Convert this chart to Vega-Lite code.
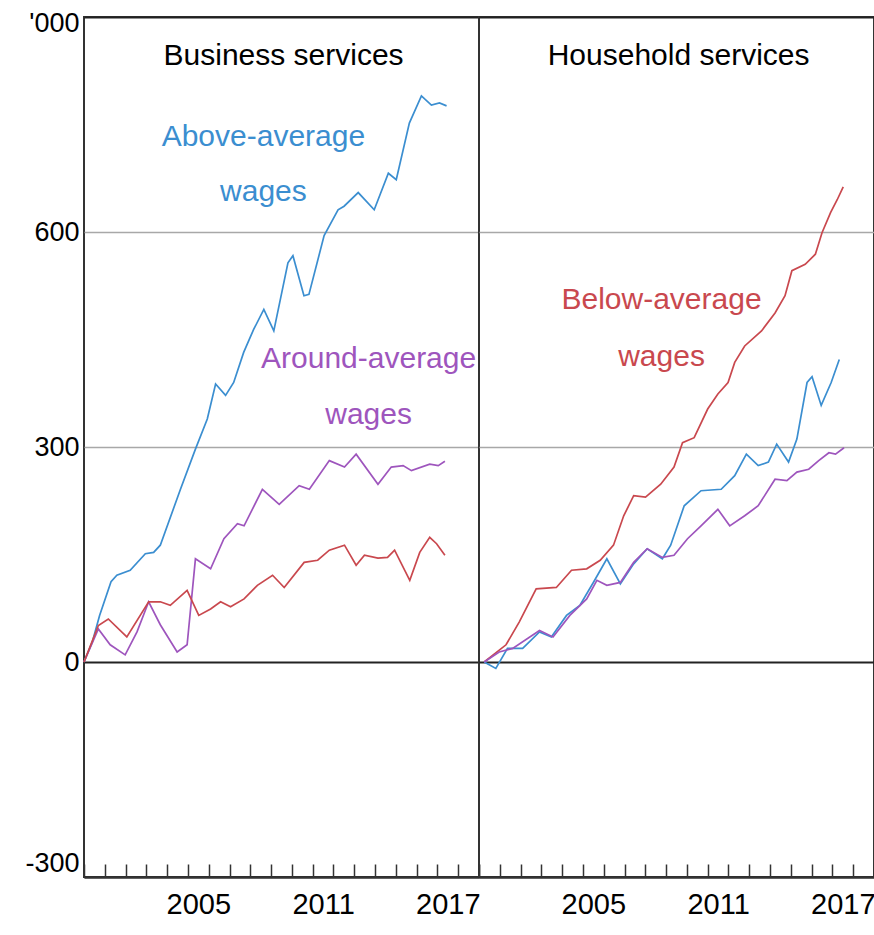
{
  "$schema": "https://vega.github.io/schema/vega-lite/v6.json",
  "background": "white",
  "padding": {"left": 23, "top": 8, "right": 0, "bottom": 0},
  "spacing": 0,
  "bounds": "flush",
  "datasets": {
    "series": [
      {"panel":"Business","series":"Above-average wages","year":2000.0,"value":0},
      {"panel":"Business","series":"Above-average wages","year":2000.4,"value":28},
      {"panel":"Business","series":"Above-average wages","year":2000.75,"value":65},
      {"panel":"Business","series":"Above-average wages","year":2001.3,"value":112},
      {"panel":"Business","series":"Above-average wages","year":2001.58,"value":121},
      {"panel":"Business","series":"Above-average wages","year":2002.22,"value":128},
      {"panel":"Business","series":"Above-average wages","year":2002.95,"value":151},
      {"panel":"Business","series":"Above-average wages","year":2003.35,"value":153},
      {"panel":"Business","series":"Above-average wages","year":2003.67,"value":163},
      {"panel":"Business","series":"Above-average wages","year":2004.64,"value":241},
      {"panel":"Business","series":"Above-average wages","year":2005.36,"value":297},
      {"panel":"Business","series":"Above-average wages","year":2005.93,"value":339},
      {"panel":"Business","series":"Above-average wages","year":2006.33,"value":388},
      {"panel":"Business","series":"Above-average wages","year":2006.81,"value":372},
      {"panel":"Business","series":"Above-average wages","year":2007.2,"value":390},
      {"panel":"Business","series":"Above-average wages","year":2007.68,"value":432},
      {"panel":"Business","series":"Above-average wages","year":2008.16,"value":464},
      {"panel":"Business","series":"Above-average wages","year":2008.65,"value":492},
      {"panel":"Business","series":"Above-average wages","year":2009.13,"value":462},
      {"panel":"Business","series":"Above-average wages","year":2009.81,"value":557},
      {"panel":"Business","series":"Above-average wages","year":2010.05,"value":567},
      {"panel":"Business","series":"Above-average wages","year":2010.58,"value":511},
      {"panel":"Business","series":"Above-average wages","year":2010.82,"value":513},
      {"panel":"Business","series":"Above-average wages","year":2011.55,"value":595},
      {"panel":"Business","series":"Above-average wages","year":2012.22,"value":631},
      {"panel":"Business","series":"Above-average wages","year":2012.51,"value":636},
      {"panel":"Business","series":"Above-average wages","year":2013.19,"value":655},
      {"panel":"Business","series":"Above-average wages","year":2013.96,"value":631},
      {"panel":"Business","series":"Above-average wages","year":2014.64,"value":682},
      {"panel":"Business","series":"Above-average wages","year":2015.02,"value":673},
      {"panel":"Business","series":"Above-average wages","year":2015.65,"value":752},
      {"panel":"Business","series":"Above-average wages","year":2016.23,"value":790},
      {"panel":"Business","series":"Above-average wages","year":2016.71,"value":777},
      {"panel":"Business","series":"Above-average wages","year":2017.1,"value":780},
      {"panel":"Business","series":"Above-average wages","year":2017.44,"value":776},

      {"panel":"Business","series":"Around-average wages","year":2000.0,"value":0},
      {"panel":"Business","series":"Around-average wages","year":2000.69,"value":46},
      {"panel":"Business","series":"Around-average wages","year":2001.26,"value":24},
      {"panel":"Business","series":"Around-average wages","year":2001.98,"value":10},
      {"panel":"Business","series":"Around-average wages","year":2002.55,"value":42},
      {"panel":"Business","series":"Around-average wages","year":2003.11,"value":84},
      {"panel":"Business","series":"Around-average wages","year":2003.67,"value":52},
      {"panel":"Business","series":"Around-average wages","year":2004.48,"value":14},
      {"panel":"Business","series":"Around-average wages","year":2004.96,"value":24},
      {"panel":"Business","series":"Around-average wages","year":2005.36,"value":144},
      {"panel":"Business","series":"Around-average wages","year":2006.09,"value":130},
      {"panel":"Business","series":"Around-average wages","year":2006.73,"value":172},
      {"panel":"Business","series":"Around-average wages","year":2007.38,"value":193},
      {"panel":"Business","series":"Around-average wages","year":2007.7,"value":190},
      {"panel":"Business","series":"Around-average wages","year":2008.58,"value":241},
      {"panel":"Business","series":"Around-average wages","year":2009.39,"value":220},
      {"panel":"Business","series":"Around-average wages","year":2010.35,"value":246},
      {"panel":"Business","series":"Around-average wages","year":2010.84,"value":241},
      {"panel":"Business","series":"Around-average wages","year":2011.8,"value":281},
      {"panel":"Business","series":"Around-average wages","year":2012.53,"value":272},
      {"panel":"Business","series":"Around-average wages","year":2013.09,"value":290},
      {"panel":"Business","series":"Around-average wages","year":2014.14,"value":248},
      {"panel":"Business","series":"Around-average wages","year":2014.78,"value":272},
      {"panel":"Business","series":"Around-average wages","year":2015.35,"value":274},
      {"panel":"Business","series":"Around-average wages","year":2015.75,"value":267},
      {"panel":"Business","series":"Around-average wages","year":2016.63,"value":276},
      {"panel":"Business","series":"Around-average wages","year":2017.04,"value":274},
      {"panel":"Business","series":"Around-average wages","year":2017.36,"value":280},

      {"panel":"Business","series":"Below-average wages","year":2000.0,"value":0},
      {"panel":"Business","series":"Below-average wages","year":2000.69,"value":51},
      {"panel":"Business","series":"Below-average wages","year":2001.17,"value":60},
      {"panel":"Business","series":"Below-average wages","year":2002.06,"value":35},
      {"panel":"Business","series":"Below-average wages","year":2003.11,"value":84},
      {"panel":"Business","series":"Below-average wages","year":2003.67,"value":84},
      {"panel":"Business","series":"Below-average wages","year":2004.15,"value":79},
      {"panel":"Business","series":"Below-average wages","year":2004.96,"value":100},
      {"panel":"Business","series":"Below-average wages","year":2005.52,"value":65},
      {"panel":"Business","series":"Below-average wages","year":2006.09,"value":74},
      {"panel":"Business","series":"Below-average wages","year":2006.57,"value":84},
      {"panel":"Business","series":"Below-average wages","year":2007.05,"value":77},
      {"panel":"Business","series":"Below-average wages","year":2007.7,"value":88},
      {"panel":"Business","series":"Below-average wages","year":2008.34,"value":107},
      {"panel":"Business","series":"Below-average wages","year":2009.07,"value":121},
      {"panel":"Business","series":"Below-average wages","year":2009.63,"value":104},
      {"panel":"Business","series":"Below-average wages","year":2010.59,"value":139},
      {"panel":"Business","series":"Below-average wages","year":2011.24,"value":142},
      {"panel":"Business","series":"Below-average wages","year":2011.8,"value":156},
      {"panel":"Business","series":"Below-average wages","year":2012.53,"value":163},
      {"panel":"Business","series":"Below-average wages","year":2013.09,"value":135},
      {"panel":"Business","series":"Below-average wages","year":2013.49,"value":149},
      {"panel":"Business","series":"Below-average wages","year":2014.14,"value":145},
      {"panel":"Business","series":"Below-average wages","year":2014.6,"value":146},
      {"panel":"Business","series":"Below-average wages","year":2014.94,"value":156},
      {"panel":"Business","series":"Below-average wages","year":2015.67,"value":114},
      {"panel":"Business","series":"Below-average wages","year":2016.15,"value":153},
      {"panel":"Business","series":"Below-average wages","year":2016.63,"value":174},
      {"panel":"Business","series":"Below-average wages","year":2016.96,"value":165},
      {"panel":"Business","series":"Below-average wages","year":2017.36,"value":149},

      {"panel":"Household","series":"Below-average wages","year":2000.25,"value":0},
      {"panel":"Household","series":"Below-average wages","year":2001.3,"value":24},
      {"panel":"Household","series":"Below-average wages","year":2001.94,"value":56},
      {"panel":"Household","series":"Below-average wages","year":2002.75,"value":102},
      {"panel":"Household","series":"Below-average wages","year":2003.72,"value":104},
      {"panel":"Household","series":"Below-average wages","year":2004.45,"value":128},
      {"panel":"Household","series":"Below-average wages","year":2005.18,"value":130},
      {"panel":"Household","series":"Below-average wages","year":2005.83,"value":142},
      {"panel":"Household","series":"Below-average wages","year":2006.47,"value":163},
      {"panel":"Household","series":"Below-average wages","year":2006.96,"value":204},
      {"panel":"Household","series":"Below-average wages","year":2007.44,"value":232},
      {"panel":"Household","series":"Below-average wages","year":2008.01,"value":230},
      {"panel":"Household","series":"Below-average wages","year":2008.74,"value":248},
      {"panel":"Household","series":"Below-average wages","year":2009.38,"value":272},
      {"panel":"Household","series":"Below-average wages","year":2009.79,"value":306},
      {"panel":"Household","series":"Below-average wages","year":2010.35,"value":313},
      {"panel":"Household","series":"Below-average wages","year":2011.0,"value":353},
      {"panel":"Household","series":"Below-average wages","year":2011.49,"value":374},
      {"panel":"Household","series":"Below-average wages","year":2011.98,"value":390},
      {"panel":"Household","series":"Below-average wages","year":2012.3,"value":418},
      {"panel":"Household","series":"Below-average wages","year":2012.78,"value":441},
      {"panel":"Household","series":"Below-average wages","year":2013.59,"value":462},
      {"panel":"Household","series":"Below-average wages","year":2014.24,"value":487},
      {"panel":"Household","series":"Below-average wages","year":2014.72,"value":511},
      {"panel":"Household","series":"Below-average wages","year":2015.05,"value":546},
      {"panel":"Household","series":"Below-average wages","year":2015.69,"value":555},
      {"panel":"Household","series":"Below-average wages","year":2016.18,"value":569},
      {"panel":"Household","series":"Below-average wages","year":2016.5,"value":599},
      {"panel":"Household","series":"Below-average wages","year":2016.91,"value":627},
      {"panel":"Household","series":"Below-average wages","year":2017.23,"value":645},
      {"panel":"Household","series":"Below-average wages","year":2017.52,"value":663},

      {"panel":"Household","series":"Above-average wages","year":2000.25,"value":0},
      {"panel":"Household","series":"Above-average wages","year":2000.81,"value":-9},
      {"panel":"Household","series":"Above-average wages","year":2001.37,"value":19},
      {"panel":"Household","series":"Above-average wages","year":2002.1,"value":19},
      {"panel":"Household","series":"Above-average wages","year":2002.91,"value":42},
      {"panel":"Household","series":"Above-average wages","year":2003.48,"value":35},
      {"panel":"Household","series":"Above-average wages","year":2004.21,"value":65},
      {"panel":"Household","series":"Above-average wages","year":2004.85,"value":79},
      {"panel":"Household","series":"Above-average wages","year":2005.5,"value":111},
      {"panel":"Household","series":"Above-average wages","year":2006.15,"value":144},
      {"panel":"Household","series":"Above-average wages","year":2006.8,"value":109},
      {"panel":"Household","series":"Above-average wages","year":2007.44,"value":137},
      {"panel":"Household","series":"Above-average wages","year":2008.09,"value":158},
      {"panel":"Household","series":"Above-average wages","year":2008.82,"value":144},
      {"panel":"Household","series":"Above-average wages","year":2009.22,"value":163},
      {"panel":"Household","series":"Above-average wages","year":2009.87,"value":218},
      {"panel":"Household","series":"Above-average wages","year":2010.68,"value":239},
      {"panel":"Household","series":"Above-average wages","year":2011.65,"value":241},
      {"panel":"Household","series":"Above-average wages","year":2012.3,"value":260},
      {"panel":"Household","series":"Above-average wages","year":2012.86,"value":290},
      {"panel":"Household","series":"Above-average wages","year":2013.43,"value":274},
      {"panel":"Household","series":"Above-average wages","year":2013.92,"value":279},
      {"panel":"Household","series":"Above-average wages","year":2014.32,"value":304},
      {"panel":"Household","series":"Above-average wages","year":2014.89,"value":279},
      {"panel":"Household","series":"Above-average wages","year":2015.29,"value":311},
      {"panel":"Household","series":"Above-average wages","year":2015.78,"value":390},
      {"panel":"Household","series":"Above-average wages","year":2016.02,"value":398},
      {"panel":"Household","series":"Above-average wages","year":2016.46,"value":358},
      {"panel":"Household","series":"Above-average wages","year":2016.94,"value":390},
      {"panel":"Household","series":"Above-average wages","year":2017.33,"value":422},

      {"panel":"Household","series":"Around-average wages","year":2000.25,"value":0},
      {"panel":"Household","series":"Around-average wages","year":2000.97,"value":14},
      {"panel":"Household","series":"Around-average wages","year":2001.62,"value":19},
      {"panel":"Household","series":"Around-average wages","year":2002.91,"value":44},
      {"panel":"Household","series":"Around-average wages","year":2003.56,"value":35},
      {"panel":"Household","series":"Around-average wages","year":2004.37,"value":65},
      {"panel":"Household","series":"Around-average wages","year":2005.18,"value":88},
      {"panel":"Household","series":"Around-average wages","year":2005.67,"value":114},
      {"panel":"Household","series":"Around-average wages","year":2006.15,"value":107},
      {"panel":"Household","series":"Around-average wages","year":2006.8,"value":111},
      {"panel":"Household","series":"Around-average wages","year":2007.44,"value":139},
      {"panel":"Household","series":"Around-average wages","year":2008.09,"value":158},
      {"panel":"Household","series":"Around-average wages","year":2008.82,"value":146},
      {"panel":"Household","series":"Around-average wages","year":2009.38,"value":149},
      {"panel":"Household","series":"Around-average wages","year":2010.03,"value":172},
      {"panel":"Household","series":"Around-average wages","year":2010.68,"value":190},
      {"panel":"Household","series":"Around-average wages","year":2011.49,"value":213},
      {"panel":"Household","series":"Around-average wages","year":2012.06,"value":190},
      {"panel":"Household","series":"Around-average wages","year":2012.78,"value":204},
      {"panel":"Household","series":"Around-average wages","year":2013.43,"value":218},
      {"panel":"Household","series":"Around-average wages","year":2014.24,"value":255},
      {"panel":"Household","series":"Around-average wages","year":2014.81,"value":253},
      {"panel":"Household","series":"Around-average wages","year":2015.29,"value":265},
      {"panel":"Household","series":"Around-average wages","year":2015.86,"value":269},
      {"panel":"Household","series":"Around-average wages","year":2016.34,"value":281},
      {"panel":"Household","series":"Around-average wages","year":2016.83,"value":292},
      {"panel":"Household","series":"Around-average wages","year":2017.15,"value":290},
      {"panel":"Household","series":"Around-average wages","year":2017.56,"value":299}
    ],
    "labels": [
      {"panel":"Business","series":"Above-average wages","text":"Above-average","year":2008.63,"value":733},
      {"panel":"Business","series":"Above-average wages","text":"wages","year":2008.63,"value":656},
      {"panel":"Business","series":"Around-average wages","text":"Around-average","year":2013.69,"value":423},
      {"panel":"Business","series":"Around-average wages","text":"wages","year":2013.69,"value":345},
      {"panel":"Household","series":"Below-average wages","text":"Below-average","year":2008.78,"value":505},
      {"panel":"Household","series":"Below-average wages","text":"wages","year":2008.78,"value":426}
    ],
    "titles": [
      {"panel":"Business","text":"Business services","year":2009.6,"value":845},
      {"panel":"Household","text":"Household services","year":2009.6,"value":845}
    ]
  },
  "hconcat": [
    {
      "width": 395,
      "height": 860,
      "encoding": {
        "x": {"field": "year", "type": "quantitative",
          "scale": {"domain": [2000, 2019], "nice": false, "zero": false},
          "axis": {"values": [2000,2001,2002,2003,2004,2005,2006,2007,2008,2009,2010,2011,2012,2013,2014,2015,2016,2017,2018,2019],
            "title": null, "grid": false, "domain": true, "domainColor": "#333", "domainWidth": 2,
            "ticks": true, "tickSize": -13, "tickColor": "#333", "tickWidth": 1.5,
            "labelExpr": "indexof([2005,2011,2017], datum.value) >= 0 ? format(datum.value, 'd') : ''",
            "labelOffset": 10.4, "labelFontSize": 29, "labelColor": "black", "labelPadding": 26,
            "labelOverlap": false, "labelFlush": false, "labelBound": false}},
        "y": {"field": "value", "type": "quantitative",
          "scale": {"domain": [-300, 900], "nice": false},
          "axis": {"values": [-300, 0, 300, 600, 900], "title": null, "domain": false, "ticks": false,
            "grid": true,
            "gridColor": {"condition": {"test": "datum.value === 0 || datum.value === -300 || datum.value === 900", "value": "#222"}, "value": "#a8a8a8"},
            "gridWidth": {"condition": {"test": "datum.value === 0 || datum.value === -300 || datum.value === 900", "value": 2}, "value": 1.3},
            "labelExpr": "datum.value == 900 ? \"'000\" : (datum.value == -300 ? '-300' : datum.label)",
            "labelOffset": {"condition": {"test": "datum.value === 900", "value": -7}, "value": 0},
            "labelFlush": true, "labelFontSize": 27, "labelColor": "black", "labelPadding": 5, "labelOverlap": false}}
      },
      "layer": [
        {
          "data": {"name": "series"},
          "transform": [{"filter": "datum.panel == 'Business'"}],
          "mark": {"type": "line", "strokeWidth": 1.7},
          "encoding": {
            "color": {"field": "series", "type": "nominal",
              "scale": {"domain": ["Above-average wages", "Around-average wages", "Below-average wages"], "range": ["#3b8ed0", "#9e55bd", "#c9484e"]},
              "legend": null}
          }
        },
        {
          "data": {"name": "labels"},
          "transform": [{"filter": "datum.panel == 'Business'"}],
          "mark": {"type": "text", "fontSize": 30, "font": "Liberation Sans", "baseline": "middle", "align": "center"},
          "encoding": {
            "text": {"field": "text"},
            "color": {"field": "series", "type": "nominal", "legend": null}
          }
        },
        {
          "data": {"name": "titles"},
          "transform": [{"filter": "datum.panel == 'Business'"}],
          "mark": {"type": "text", "fontSize": 30, "font": "Liberation Sans", "baseline": "middle", "align": "center", "color": "black"},
          "encoding": {
            "text": {"field": "text"}
          }
        }
      ]
    },
    {
      "width": 395,
      "height": 860,
      "encoding": {
        "x": {"field": "year", "type": "quantitative",
          "scale": {"domain": [2000, 2019], "nice": false, "zero": false},
          "axis": {"values": [2000,2001,2002,2003,2004,2005,2006,2007,2008,2009,2010,2011,2012,2013,2014,2015,2016,2017,2018,2019],
            "title": null, "grid": false, "domain": true, "domainColor": "#333", "domainWidth": 2,
            "ticks": true, "tickSize": -13, "tickColor": "#333", "tickWidth": 1.5,
            "labelExpr": "indexof([2005,2011,2017], datum.value) >= 0 ? format(datum.value, 'd') : ''",
            "labelOffset": 10.4, "labelFontSize": 29, "labelColor": "black", "labelPadding": 26,
            "labelOverlap": false, "labelFlush": false, "labelBound": false}},
        "y": {"field": "value", "type": "quantitative",
          "scale": {"domain": [-300, 900], "nice": false},
          "axis": {"values": [-300, 0, 300, 600, 900], "title": null, "domain": false, "ticks": false,
            "labels": false, "grid": true,
            "gridColor": {"condition": {"test": "datum.value === 0 || datum.value === -300 || datum.value === 900", "value": "#222"}, "value": "#a8a8a8"},
            "gridWidth": {"condition": {"test": "datum.value === 0 || datum.value === -300 || datum.value === 900", "value": 2}, "value": 1.3}}}
      },
      "layer": [
        {
          "data": {"name": "series"},
          "transform": [{"filter": "datum.panel == 'Household'"}],
          "mark": {"type": "line", "strokeWidth": 1.7},
          "encoding": {
            "color": {"field": "series", "type": "nominal",
              "scale": {"domain": ["Above-average wages", "Around-average wages", "Below-average wages"], "range": ["#3b8ed0", "#9e55bd", "#c9484e"]},
              "legend": null}
          }
        },
        {
          "data": {"name": "labels"},
          "transform": [{"filter": "datum.panel == 'Household'"}],
          "mark": {"type": "text", "fontSize": 30, "font": "Liberation Sans", "baseline": "middle", "align": "center"},
          "encoding": {
            "text": {"field": "text"},
            "color": {"field": "series", "type": "nominal", "legend": null}
          }
        },
        {
          "data": {"name": "titles"},
          "transform": [{"filter": "datum.panel == 'Household'"}],
          "mark": {"type": "text", "fontSize": 30, "font": "Liberation Sans", "baseline": "middle", "align": "center", "color": "black"},
          "encoding": {
            "text": {"field": "text"}
          }
        }
      ]
    }
  ],
  "config": {
    "font": "Liberation Sans",
    "view": {"stroke": "#333", "strokeWidth": 2},
    "axis": {"labelFont": "Liberation Sans"}
  }
}
